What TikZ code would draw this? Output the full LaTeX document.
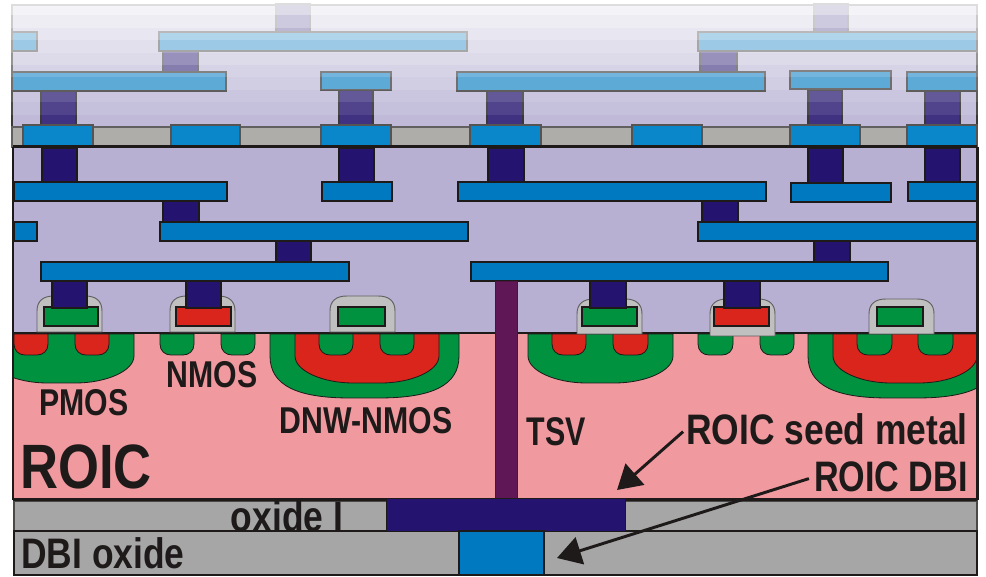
\documentclass[tikz,border=0pt]{standalone}
\usepackage{fontspec}
\setmainfont{Liberation Sans}
\usetikzlibrary{arrows.meta}
\definecolor{lav}{HTML}{B7B0D3}
\definecolor{metal}{HTML}{0079C1}
\definecolor{padblue}{HTML}{0A86CA}
\definecolor{viab}{HTML}{24146F}
\definecolor{gr}{HTML}{00923F}
\definecolor{rd}{HTML}{D9251C}
\definecolor{spc}{HTML}{C0C0C0}
\definecolor{pnk}{HTML}{F0999F}
\definecolor{oxd}{HTML}{A6A6A6}
\definecolor{band}{HTML}{AEADAA}
\definecolor{tsvc}{HTML}{5F1755}
\definecolor{ink}{HTML}{1E1A1A}
\tikzset{
  mtl/.style={fill=metal,draw=ink,line width=1pt},
  vi/.style={fill=viab,draw=ink,line width=.8pt},
  pad/.style={fill=padblue,draw=ink!75,line width=.8pt},
  dop/.style={draw=ink,line width=.6pt},
  sp/.style={fill=spc,draw=ink!70,line width=.7pt},
  gate/.style={draw=ink,line width=.8pt},
  lbase/.style={text=ink,inner sep=0pt,anchor=center},
  lbl/.style={lbase,font=\bfseries\fontsize{28pt}{28pt}\selectfont,xscale=.81},
  lblb/.style={lbase,font=\bfseries\fontsize{32pt}{32pt}\selectfont,xscale=.83},
  lbld/.style={lbase,font=\bfseries\fontsize{32pt}{32pt}\selectfont,xscale=.80},
  lblt/.style={lbase,font=\bfseries\fontsize{30pt}{30pt}\selectfont,xscale=.76},
  lblr/.style={lbase,font=\bfseries\fontsize{47pt}{47pt}\selectfont,xscale=.84},
  arr/.style={ink,line width=2.2pt,-{Triangle[length=18pt,width=21pt]}},
}
\newcommand{\smwell}[3]{\draw[dop,fill=#3] (#1,334) -- (#1,344) .. controls (#1,351) and ({#1+5},355) .. ({#1+11},355) -- ({#2-11},355) .. controls ({#2-5},355) and (#2,351) .. (#2,344) -- (#2,334) -- cycle;}
\newcommand{\bgwell}[4]{\draw[dop,fill=#4] (#1,334) -- (#1,356) .. controls (#1,{#3-12}) and ({#1+28},#3) .. ({(#1+#2)/2-14},#3) -- ({(#1+#2)/2+14},#3) .. controls ({#2-28},#3) and (#2,{#3-12}) .. (#2,356) -- (#2,334) -- cycle;}
\newcommand{\spacer}[3]{\draw[sp] (#1,#3) -- (#1,{#2+15}) .. controls (#1,{#2+5}) and ({#1+6},#2) .. ({#1+17},#2) -- ({#1+48},#2) .. controls ({#1+59},#2) and ({#1+65},{#2+5}) .. ({#1+65},{#2+15}) -- ({#1+65},#3) -- cycle;}
\begin{document}
\begin{tikzpicture}[x=0.75pt,y=-0.75pt]
\useasboundingbox (0,0) rectangle (986,577);
% upper, faded stack
\fill[lav] (12,5) rectangle (977,127);
\draw[ink,line width=1pt] (12,127) -- (12,5) -- (977,5) -- (977,127);
\foreach \a/\b/\c/\d in {276/4/310/32,814/4/848/32,163/51/198/72,700/51/737/72,41/90/76/126,339/90/373/126,487/90/523/126,808/90/842/126,925/90/960/126}
  \draw[vi] (\a,\b) rectangle (\c,\d);
\foreach \a/\b/\c/\d in {12/32/37/51,159/32/467/51,698/32/977/51,12/72/226/91,321/72/391/90,457/72/765/91,790/71/891/89,907/72/977/91}
  \draw[mtl] (\a,\b) rectangle (\c,\d);
\foreach \i in {0,...,9}{
  \pgfmathsetmacro{\ya}{3+12.4*\i}
  \pgfmathsetmacro{\yb}{3+12.4*(\i+1)}
  \pgfmathsetmacro{\op}{0.88-0.0065*(\ya+6-5)}
  \fill[white,opacity=\op] (10,\ya) rectangle (979,\yb);
}
% grey band and pads
\draw[fill=band,draw=ink!70,line width=.8pt] (12,127) rectangle (977,147);
% main dielectric
\draw[fill=lav,draw=none] (13,147) rectangle (977,333);
\foreach \a/\b/\c/\d in {42/148/77/183,339/148/374/183,488/148/524/183,808/148/843/183,925/148/960/183,163/201/199/222,702/201/738/222,276/241/311/262,814/241/850/262}
  \draw[vi] (\a,\b) rectangle (\c,\d);
\foreach \a/\b/\c/\d in {14/182/227/201,322/182/392/201,458/182/766/201,791/183/891/202,908/182/977/201,14/222/37/241,160/222/468/241,698/222/977/241,41/262/349/281,471/262/888/281}
  \draw[mtl] (\a,\b) rectangle (\c,\d);
\foreach \a/\c in {23/93,171/240,321/391,470/541,632/702,790/860,907/977}
  \draw[pad] (\a,125) rectangle (\c,147);
\draw[ink,line width=1.8pt] (13,146.5) -- (977,146.5);
% substrate
\fill[pnk] (13,333) rectangle (977,499);
\begin{scope}
\clip (14,333) rectangle (977,499);
\bgwell{-11}{134}{383}{gr}
\bgwell{528}{673}{383}{gr}
\bgwell{270}{459}{398}{gr}
\bgwell{295}{439}{383}{rd}
\bgwell{808}{997}{398}{gr}
\bgwell{833}{977}{383}{rd}
\smwell{14}{48}{rd}\smwell{75}{109}{rd}
\smwell{160}{194}{gr}\smwell{221}{255}{gr}
\smwell{319}{353}{gr}\smwell{380}{414}{gr}
\smwell{552}{586}{rd}\smwell{613}{648}{rd}
\smwell{698}{733}{gr}\smwell{760}{794}{gr}
\smwell{857}{892}{gr}\smwell{918}{953}{gr}
\end{scope}
\draw[ink,line width=1.8pt] (13,333) -- (977,333);
% gates
\spacer{37}{296}{332}\spacer{170}{296}{332}\spacer{330}{296}{332}
\spacer{577}{299}{334}\spacer{710}{299}{336}\spacer{869}{299}{334}
\foreach \a/\c/\f in {44/98/gr,176/231/rd,338/385/gr,582/637/gr,714/769/rd,877/923/gr}
  \draw[gate,fill=\f] (\a,307) rectangle (\c,326);
\foreach \a/\c in {52/87,186/221,590/626,724/760}
  \draw[vi] (\a,281) rectangle (\c,308);
% TSV
\draw[fill=tsvc,draw=tsvc!80!black,line width=.5pt] (495,281) rectangle (517,499);
% bottom layers
\draw[fill=oxd,draw=ink!80,line width=1pt] (14,501) rectangle (977,531);
\draw[fill=oxd,draw=ink,line width=1.3pt] (14,531) rectangle (977,575);
\draw[ink,line width=2pt] (13,499.5) -- (977,499.5);
\draw[ink,line width=2pt] (13,147) -- (13,499.5);
\draw[ink,line width=2pt] (977.5,147) -- (977.5,499.5);
\draw[vi,line width=.7pt] (386,498) rectangle (625,531);
\draw[fill=metal,draw=ink,line width=.9pt] (459,531) rectangle (544,575);
% labels
\node[lbl] (pmos) at (84,403) {PMOS};
\node[lbl] (nmos) at (212,375) {NMOS};
\node[lbl] (dnw) at (366,421) {DNW-NMOS};
\node[lblt] (tsv) at (556,432) {TSV};
\node[lblr] (roic) at (86,467) {ROIC};
\node[lblb,anchor=east] (seed) at (968,429) {ROIC seed metal};
\node[lbld,anchor=east] (dbi) at (968,477) {ROIC DBI};
\node[lblb] (oxi) at (287,516) {oxide I};
\node[lblb,anchor=west] (dox) at (21,553) {DBI oxide};
% arrows
\coordinate (seedtip) at (617,490);
\coordinate (dbitip) at (557,558);
\draw[arr,shorten <=3pt] (seed.west) -- (seedtip);
\draw[arr,shorten <=4pt] (dbi.west) -- (dbitip);
\end{tikzpicture}
\end{document}
